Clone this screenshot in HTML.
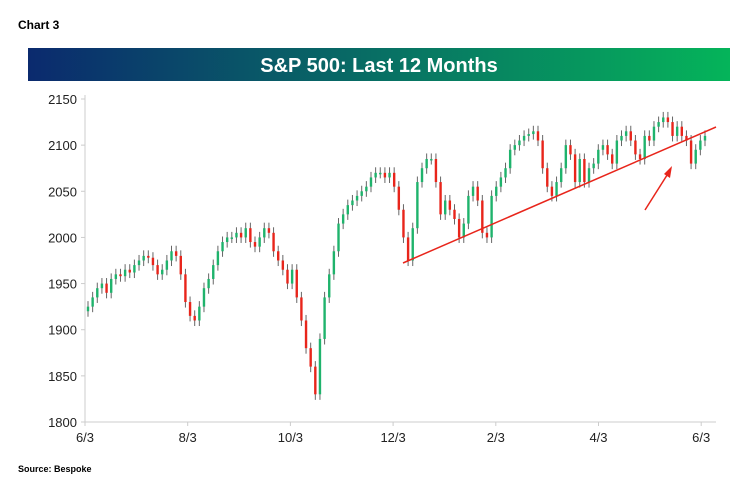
<!DOCTYPE html>
<html><head><meta charset="utf-8">
<style>
body{margin:0;background:#fff;width:750px;height:494px;overflow:hidden;font-family:"Liberation Sans",sans-serif}
</style></head><body>
<svg width="750" height="494">
<defs><linearGradient id="g" x1="0" x2="1"><stop offset="0" stop-color="#0b2a6e"/><stop offset="1" stop-color="#05b45a"/></linearGradient></defs>
<text x="18" y="29" font-size="12" font-weight="bold">Chart 3</text>
<rect x="28" y="48" width="702" height="33" fill="url(#g)"/>
<text x="379" y="72" text-anchor="middle" fill="#fff" font-size="20" font-weight="bold">S&amp;P 500: Last 12 Months</text>
<g id="axes"></g><g id="marks"></g>
<line x1="403" y1="263" x2="716" y2="127" stroke="#e8251b" stroke-width="1.5"/>
<line x1="645" y1="210" x2="669" y2="172" stroke="#e8251b" stroke-width="1.5"/>
<polygon points="672,166 670,178 664,174" fill="#e8251b"/>
<text x="18" y="472" font-size="9" font-weight="bold">Source:  Bespoke</text>
</svg>
<script>
const yTicks=[1800,1850,1900,1950,2000,2050,2100,2150];
const xLabels=["6/3","8/3","10/3","12/3","2/3","4/3","6/3"];
const closes=[1925,1935,1945,1950,1940,1955,1960,1958,1965,1962,
1970,1975,1980,1978,1970,1960,1965,1975,1985,1980,1960,
1930,1915,1910,1925,1945,1955,1970,1985,1995,2000,2000,
2005,2000,2010,1995,1990,2000,2010,2005,1985,1975,1965,
1950,1965,1935,1910,1880,1860,1830,1890,1935,1960,1985,
2015,2025,2035,2040,2045,2050,2055,2065,2070,2070,
2065,2070,2055,2030,2000,1975,2010,2060,2075,2085,2085,
2060,2025,2040,2030,2020,2000,2015,2045,2055,2040,2005,
2000,2045,2055,2065,2075,2095,2100,2105,2110,2112,
2115,2105,2075,2055,2045,2060,2075,2100,2090,2060,2085,
2060,2075,2080,2095,2100,2090,2080,2105,2110,2115,2105,
2090,2085,2110,2105,2120,2125,2130,2125,2110,2120,
2110,2105,2080,2095,2105,2110];
const NS="http://www.w3.org/2000/svg";
const y=v=>422-(v-1800)*(323/350);
const x=i=>88+i*(617/(closes.length-1));
const ax=document.getElementById('axes'),mk=document.getElementById('marks');
function mkEl(t,a,p){const e=document.createElementNS(NS,t);for(const k in a)e.setAttribute(k,a[k]);p.appendChild(e);return e;}
let e=mkEl('line',{x1:85,y1:95,x2:85,y2:422,stroke:'#ccc'},ax);


e=mkEl('line',{x1:85,y1:422,x2:716,y2:422,stroke:'#ccc'},ax);


yTicks.forEach(v=>{
 mkEl('line',{x1:81,x2:85,y1:y(v),y2:y(v),stroke:'#ccc'},ax);
 const t=mkEl('text',{x:77,y:y(v)+5,'text-anchor':'end','font-size':13,fill:'#222'},ax);
 t.textContent=v;
 
 
});
xLabels.forEach((l,i)=>{
 const xx=85+i*102.7;
 mkEl('line',{x1:xx,x2:xx,y1:422,y2:426,stroke:'#ccc'},ax);
 const t=mkEl('text',{x:xx,y:442,'text-anchor':'middle','font-size':13,fill:'#222'},ax);
 t.textContent=l;
 
 
});
closes.forEach((c,i)=>{
 const o=i?closes[i-1]:c-5;
 const hi=Math.max(o,c)+6,lo=Math.min(o,c)-6;
 const up=c>=o;
 const w=mkEl('line',{x1:x(i),x2:x(i),y1:y(hi),y2:y(lo),stroke:'#666','stroke-width':1},mk);
 
 
 const top=y(Math.max(o,c)),h=Math.max(1.5,Math.abs(y(o)-y(c)));
 const r=mkEl('rect',{x:x(i)-1.2,y:top,width:2.4,height:h,fill:up?'#1fb36c':'#e8251b'},mk);
 
 
});
</script>
</body></html>
